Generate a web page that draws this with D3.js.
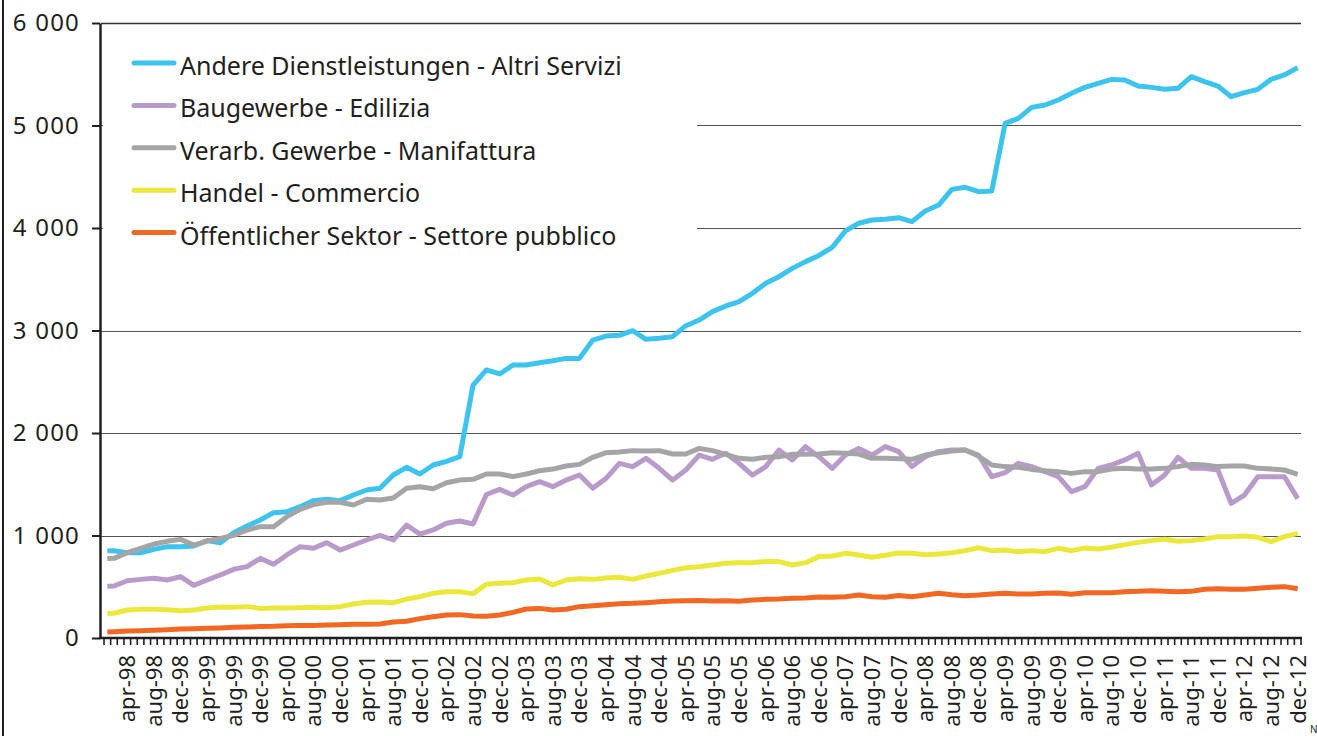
<!DOCTYPE html>
<html>
<head>
<meta charset="utf-8">
<script src="https://cdn.jsdelivr.net/npm/d3@7"></script>
<style>
  body { margin: 0; background: #fff; }
  svg text { font-family: "Noto Sans", sans-serif; fill: #231f20; }
</style>
</head>
<body>
<svg id="chart" width="1317" height="736"></svg>
<script>
// categories: one per month, jan-98 .. dec-12
const monthNames = ['jan', 'feb', 'mar', 'apr', 'may', 'jun', 'jul', 'aug', 'sep', 'oct', 'nov', 'dec']
const years = ['98', '99', '00', '01', '02', '03', '04', '05', '06', '07', '08', '09', '10', '11', '12']

const seriesNames = [
  'Andere Dienstleistungen - Altri Servizi',
  'Baugewerbe - Edilizia',
  'Verarb. Gewerbe - Manifattura',
  'Handel - Commercio',
  'Öffentlicher Sektor - Settore pubblico'
]
const seriesColors = ['#3cc4ef', '#b89bca', '#a5a5a8', '#ebe83c', '#f26722']

// values: jan-98, then every second month (feb, apr, ... dec)
const dienst = [850,
  852, 832, 832, 865, 891, 891, 897, 950, 930, 1028,
  1093, 1151, 1223, 1232, 1281, 1340, 1353, 1340, 1395, 1444,
  1460, 1590, 1665, 1600, 1688, 1724, 1769, 2468, 2615, 2576,
  2663, 2663, 2686, 2705, 2728, 2728, 2907, 2946, 2953, 2998,
  2914, 2924, 2940, 3047, 3102, 3184, 3239, 3281, 3363, 3460,
  3525, 3606, 3672, 3732, 3810, 3972, 4046, 4078, 4085, 4101,
  4062, 4166, 4224, 4377, 4397, 4354, 4360, 5020, 5070, 5177,
  5200, 5249, 5314, 5372, 5411, 5450, 5444, 5385, 5372, 5353,
  5363, 5476, 5428, 5385, 5281, 5320, 5353, 5450, 5493, 5565]
const bau = [505,
  507, 559, 572, 582, 566, 598, 514, 566, 615, 670,
  696, 777, 719, 810, 891, 875, 930, 858, 907, 956,
  1001, 956, 1102, 1014, 1054, 1119, 1141, 1112, 1400, 1450,
  1395, 1476, 1525, 1476, 1541, 1590, 1460, 1558, 1704, 1672,
  1753, 1655, 1541, 1639, 1785, 1743, 1802, 1704, 1590, 1672,
  1834, 1737, 1867, 1769, 1655, 1785, 1850, 1785, 1867, 1818,
  1672, 1769, 1818, 1834, 1834, 1785, 1574, 1613, 1704, 1672,
  1623, 1574, 1428, 1476, 1655, 1688, 1737, 1802, 1493, 1590,
  1763, 1655, 1655, 1639, 1314, 1395, 1574, 1574, 1574, 1360]
const verarb = [775,
  777, 832, 875, 917, 943, 962, 907, 946, 972, 1001,
  1054, 1086, 1086, 1184, 1255, 1301, 1324, 1324, 1298, 1353,
  1346, 1366, 1460, 1476, 1457, 1515, 1541, 1548, 1600, 1600,
  1574, 1600, 1632, 1648, 1678, 1694, 1763, 1808, 1815, 1828,
  1824, 1828, 1795, 1795, 1850, 1828, 1792, 1753, 1743, 1763,
  1769, 1792, 1792, 1795, 1808, 1802, 1795, 1753, 1753, 1748,
  1743, 1785, 1808, 1824, 1834, 1775, 1688, 1672, 1665, 1645,
  1632, 1623, 1606, 1623, 1623, 1648, 1655, 1648, 1648, 1655,
  1672, 1694, 1688, 1672, 1678, 1678, 1655, 1648, 1639, 1597]
const handel = [240,
  241, 273, 280, 280, 276, 267, 273, 293, 302, 299,
  306, 289, 293, 293, 296, 299, 296, 306, 332, 348,
  351, 345, 380, 403, 436, 452, 452, 433, 525, 533,
  540, 566, 576, 517, 566, 579, 572, 585, 592, 572,
  605, 631, 660, 686, 696, 712, 729, 735, 735, 748,
  745, 712, 735, 794, 800, 826, 810, 787, 807, 830,
  826, 813, 819, 832, 852, 881, 852, 858, 842, 852,
  842, 875, 852, 878, 868, 885, 911, 933, 950, 963,
  943, 950, 966, 989, 989, 995, 982, 940, 989, 1021]
const oeff = [58,
  62, 68, 71, 75, 81, 88, 91, 94, 98, 104,
  107, 111, 114, 120, 123, 123, 127, 130, 133, 133,
  137, 156, 163, 189, 208, 224, 228, 215, 212, 224,
  250, 283, 289, 273, 280, 306, 315, 325, 335, 338,
  345, 354, 361, 364, 367, 361, 364, 358, 371, 377,
  380, 387, 390, 400, 397, 403, 419, 403, 397, 415,
  403, 419, 436, 423, 413, 419, 429, 436, 429, 429,
  436, 439, 426, 442, 442, 442, 452, 455, 462, 455,
  452, 455, 475, 481, 475, 475, 485, 494, 501, 481]

const yTicks = [0, 1000, 2000, 3000, 4000, 5000, 6000]

const months = years.flatMap(yr => monthNames.map(m => `${m}-${yr}`))
const dataMonths = months.filter((m, i) => i === 0 || i % 2 === 1)
const labelMonths = months.filter((m, i) => i % 4 === 3)
const allSeries = [dienst, bau, verarb, handel, oeff]

const svg = d3.select('#chart')

const x = d3.scaleBand().domain(months).range([104, 1301])
const y = d3.scaleLinear().domain([0, 6000]).range([638, 23])
const bw = x.bandwidth()

const fmt = d3.formatLocale({ decimal: ',', thousands: '\u00a0', grouping: [3], currency: ['', ''] }).format(',')

// left frame line of the original box
svg.append('line')
  .attr('x1', 3).attr('x2', 3).attr('y1', 0).attr('y2', 736)
  .attr('stroke', '#231f20').attr('stroke-width', 2)

// gridlines
svg.append('g')
  .selectAll('line')
  .data(yTicks.slice(1))
  .enter()
  .append('line')
  .attr('x1', 101).attr('x2', 1301)
  .attr('y1', d => Math.round(y(d)) + 0.5).attr('y2', d => Math.round(y(d)) + 0.5)
  .attr('stroke', d => d === 6000 ? '#333' : '#555')
  .attr('stroke-width', d => d === 6000 ? 1.5 : 1)

// series lines
const line = d3.line()
  .x((d, i) => x(dataMonths[i]) + bw / 2)
  .y(d => y(d))

svg.append('g')
  .selectAll('path')
  .data(allSeries)
  .enter()
  .append('path')
  .attr('d', d => line(d))
  .attr('fill', 'none')
  .attr('stroke', (d, i) => seriesColors[i])
  .attr('stroke-width', 5)
  .attr('stroke-linejoin', 'round')

// y axis
const yAxis = svg.append('g')
  .attr('transform', 'translate(100,0)')
  .call(d3.axisLeft(y).tickValues(yTicks).tickSize(8).tickSizeOuter(0).tickPadding(12).tickFormat(fmt))
yAxis.select('.domain').attr('stroke', '#231f20').attr('stroke-width', 2.5)
yAxis.selectAll('.tick line').attr('stroke', '#231f20').attr('stroke-width', 2)
yAxis.selectAll('text').attr('font-size', 24).attr('fill', '#231f20')
  .style('font-family', '"Noto Sans", sans-serif').attr('letter-spacing', 1.2)

// x axis: tick marks between months, labels every fourth month
const xAxis = svg.append('g')
  .attr('transform', 'translate(0,638)')
  .call(d3.axisBottom(x).tickSize(7).tickSizeOuter(0).tickFormat(m => labelMonths.includes(m) ? m : ''))
xAxis.select('.domain').attr('stroke', '#231f20').attr('stroke-width', 2.5)
  .attr('d', 'M99,0H1302')
xAxis.selectAll('.tick line')
  .attr('x1', -bw / 2).attr('x2', -bw / 2)
  .attr('stroke', '#231f20').attr('stroke-width', 1.6)
xAxis.append('line')
  .attr('x1', 1301).attr('x2', 1301).attr('y1', 0).attr('y2', 7)
  .attr('stroke', '#231f20').attr('stroke-width', 1.6)
xAxis.selectAll('.tick text')
  .attr('transform', 'rotate(-90)')
  .attr('text-anchor', 'end')
  .attr('x', -17).attr('y', 0).attr('dy', '0.36em')
  .attr('font-size', 22).attr('fill', '#231f20')
  .style('font-family', '"Noto Sans", sans-serif')

// legend
const legend = svg.append('g')
legend.append('rect')
  .attr('x', 103).attr('y', 32).attr('width', 594).attr('height', 238)
  .attr('fill', '#fff')

const rows = legend.selectAll('g.row')
  .data(seriesNames)
  .enter()
  .append('g')
  .attr('class', 'row')
  .attr('transform', (d, i) => `translate(0,${63 + i * 42.4})`)

rows.append('line')
  .attr('x1', 134).attr('x2', 174).attr('y1', 0).attr('y2', 0)
  .attr('stroke', (d, i) => seriesColors[i])
  .attr('stroke-width', 5)
  .attr('stroke-linecap', 'round')

rows.append('text')
  .attr('x', 180).attr('y', 12)
  .attr('font-size', 25)
  .text(d => d)

// clipped source note at the bottom right corner
svg.append('text')
  .attr('x', 1310).attr('y', 733)
  .attr('font-size', 10)
  .text('N')
</script>
</body>
</html>
